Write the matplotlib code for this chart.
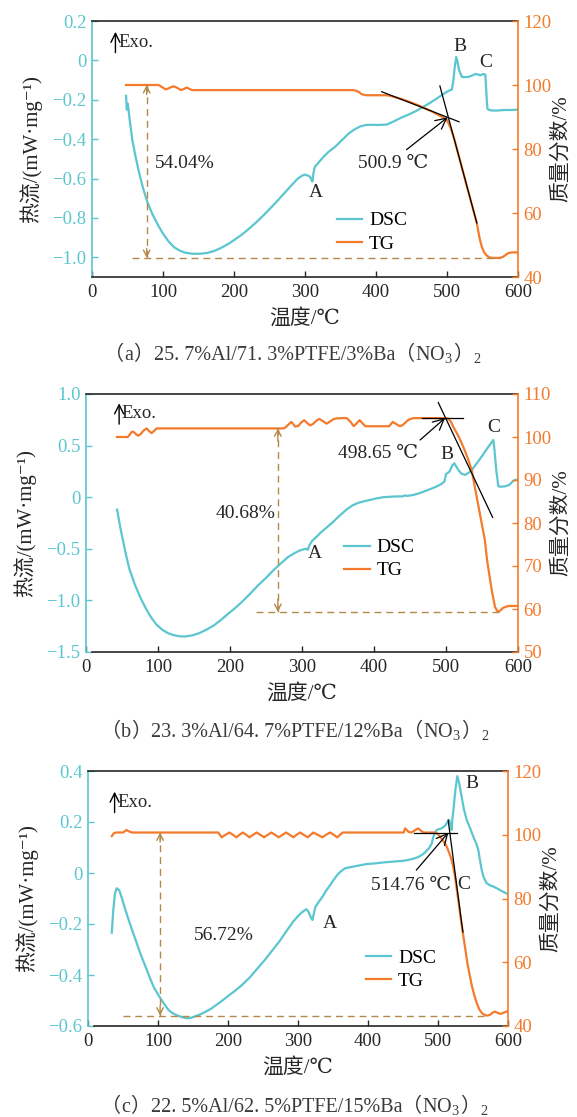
import re
import numpy as np
import matplotlib
matplotlib.use("Agg")
import matplotlib.pyplot as plt
from matplotlib.ticker import FuncFormatter
from matplotlib.offsetbox import TextArea, HPacker, AnchoredOffsetbox

plt.rcParams['font.family'] = ['Liberation Serif', 'DejaVu Serif', 'Noto Sans CJK SC']
plt.rcParams['font.size'] = 13
plt.rcParams['mathtext.fontset'] = 'custom'
plt.rcParams['mathtext.rm'] = 'Liberation Serif'
plt.rcParams['mathtext.default'] = 'regular'

CYAN = '#5bc6d0'
ORANGE = '#f47a2c'
BROWN = '#b5894c'
INK = '#262626'

# (a) 25.7%Al/71.3%PTFE/3%Ba(NO3)2
dsc_a_T = [48, 49, 50.5, 53, 57, 62, 67, 72, 78, 85, 92, 100, 108, 116, 124, 132, 142, 152,
           162, 172, 182, 192, 202, 212, 222, 232, 242, 252, 262, 272, 282, 290, 296, 300,
           304, 307, 309, 310.5, 312, 314, 320, 326, 333, 342, 352, 362, 370, 378, 386, 394,
           405, 415, 425, 436, 446, 456, 466, 476, 487, 497, 502, 504, 507, 509, 511, 513,
           515, 517, 521, 525, 530, 536, 540, 544, 547, 551, 554, 556, 557, 562, 570, 580,
           590, 600]
dsc_a = [-0.18, -0.25, -0.22, -0.30, -0.41, -0.50, -0.58, -0.65, -0.72, -0.78, -0.83, -0.88,
         -0.92, -0.95, -0.967, -0.977, -0.982, -0.982, -0.978, -0.968, -0.952, -0.932, -0.908,
         -0.882, -0.852, -0.82, -0.785, -0.748, -0.71, -0.67, -0.63, -0.60, -0.585, -0.58,
         -0.585, -0.59, -0.605, -0.615, -0.57, -0.54, -0.515, -0.49, -0.465, -0.44, -0.405,
         -0.37, -0.35, -0.335, -0.328, -0.327, -0.328, -0.326, -0.31, -0.29, -0.275, -0.258,
         -0.237, -0.216, -0.19, -0.166, -0.155, -0.152, -0.147, -0.10, -0.03, 0.017, -0.01,
         -0.05, -0.084, -0.085, -0.084, -0.076, -0.069, -0.072, -0.076, -0.069, -0.073, -0.20,
         -0.247, -0.254, -0.255, -0.252, -0.252, -0.25]
tg_a_T = [48, 94, 99, 104, 109, 115, 120, 125.5, 130, 133, 137, 141, 250, 368, 372, 376, 380,
          386, 400, 415, 420, 430, 440, 450, 460, 470, 480, 490, 495, 500, 505, 510, 520, 530,
          542, 546, 549, 552, 556, 560, 565, 570, 575, 579, 582, 586, 589, 594, 600]
tg_a = [100, 100, 99.3, 98.6, 99.1, 99.6, 99.1, 98.4, 98.8, 99.2, 98.8, 98.4, 98.4, 98.4, 98.2,
        97.8, 97.1, 96.8, 96.8, 96.8, 96.6, 96.0, 95.3, 94.5, 93.6, 92.6, 91.6, 90.4, 89.8,
        89.0, 86.6, 83.3, 75.0, 66.7, 56.8, 52.0, 49.5, 47.8, 46.7, 46.1, 45.96, 45.96, 46.0,
        46.3, 46.8, 47.4, 47.6, 47.7, 47.7]
loss_a = 54.04
onset_a = 500.9
tan1_a_T = [408, 517]
tan1_a = [97.9, 88.5]
tan2_a_T = [490, 542]
tan2_a = [99.7, 56.9]

# (b) 23.3%Al/64.7%PTFE/12%Ba(NO3)2
dsc_b_T = [43, 44, 47, 50, 55, 60, 68, 76, 84, 91, 98, 106, 114, 122, 130, 137, 147, 157, 167,
           178, 188, 198, 209, 219, 229, 239, 250, 260, 270, 280, 288, 296, 302, 306, 308, 310,
           314, 320, 326, 334, 342, 352, 362, 370, 378, 386, 393, 403, 413, 424, 434, 440, 443,
           446, 455, 464, 475, 485, 493, 498, 500, 502, 505, 509, 511.5, 514, 518, 522, 527,
           532, 536, 543, 551, 558, 565.7, 567, 570, 572.7, 576, 582, 588, 593, 596, 600]
dsc_b = [-0.12, -0.15, -0.27, -0.375, -0.54, -0.69, -0.85, -0.98, -1.09, -1.17, -1.235, -1.285,
         -1.318, -1.337, -1.348, -1.35, -1.34, -1.318, -1.285, -1.24, -1.186, -1.126, -1.063,
         -0.998, -0.928, -0.854, -0.782, -0.71, -0.645, -0.583, -0.548, -0.519, -0.505, -0.50,
         -0.51, -0.47, -0.423, -0.385, -0.343, -0.295, -0.247, -0.18, -0.119, -0.08, -0.055,
         -0.04, -0.029, -0.012, 0.0, 0.005, 0.008, 0.008, 0.018, 0.012, 0.022, 0.041, 0.07,
         0.098, 0.125, 0.153, 0.225, 0.233, 0.25, 0.31, 0.328, 0.30, 0.255, 0.225, 0.217, 0.24,
         0.265, 0.33, 0.409, 0.48, 0.554, 0.48, 0.25, 0.105, 0.102, 0.105, 0.12, 0.155, 0.167,
         0.17]
tg_b_T = [43, 58, 61, 63.5, 66, 69, 72.6, 76, 80, 84.2, 87.5, 91, 94.5, 98, 200, 275, 280, 285,
          288, 290.5, 295, 299, 303, 307, 311, 315, 320, 324, 329, 334, 339, 343, 347, 355, 362,
          367, 372, 376, 380, 384, 388, 400, 421, 424, 426, 431, 436, 440, 445, 449, 455, 470,
          490, 503, 507, 510, 517, 524, 530, 535.7, 542.6, 549.6, 554, 557, 563.5, 568, 571.8,
          575, 579.6, 586.5, 600]
tg_b = [100.0, 100.0, 100.6, 101.2, 101.2, 100.7, 100.3, 100.7, 101.5, 102.0, 101.4, 100.9,
        101.4, 102.0, 102.0, 102.0, 102.7, 103.5, 103.0, 102.4, 102.6, 103.4, 103.9, 103.3,
        102.7, 103.0, 103.8, 104.2, 103.7, 103.1, 103.6, 104.1, 104.3, 104.4, 104.4, 103.6,
        102.5, 103.2, 103.9, 103.2, 102.5, 102.5, 102.5, 103.1, 103.5, 103.0, 102.5, 102.8,
        103.6, 104.1, 104.4, 104.4, 104.4, 104.3, 103.5, 102.4, 100.3, 97.7, 95.2, 92.3, 86.1,
        79.9, 76.0, 71.4, 64.4, 60.5, 59.32, 59.6, 60.3, 60.7, 60.7]
loss_b = 40.68
onset_b = 498.65
tan1_b_T = [466, 524]
tan1_b = [104.4, 104.4]
tan2_b_T = [489.3, 564.8]
tan2_b = [108.0, 81.3]

# (c) 22.5%Al/62.5%PTFE/15%Ba(NO3)2
dsc_c_T = [34, 36, 38.5, 41, 44.5, 48, 52, 57, 63, 68, 73, 78.5, 84, 89, 94, 100, 105, 110, 115,
           121, 126, 134, 141.5, 147, 152, 160, 168, 176, 183, 191, 199, 210, 220, 231, 241, 252,
           262, 273, 283, 293, 299, 304, 309, 312, 315, 317, 319, 320.7, 322.5, 325, 330, 335,
           340, 346, 351, 356, 361, 367, 375, 382.5, 390, 398, 411, 424, 438, 451, 459, 466,
           472, 477, 482, 487, 491, 493.3, 498, 505, 510, 512.4, 516, 518, 519.5, 520.5, 522,
           525, 527.6, 530, 533.8, 537, 541, 546, 550.5, 555, 557.6, 560, 562.4, 565, 569.5,
           574, 579, 584, 588.6, 594, 600]
dsc_c = [-0.234, -0.15, -0.08, -0.06, -0.067, -0.095, -0.132, -0.175, -0.224, -0.262, -0.302,
         -0.342, -0.38, -0.415, -0.448, -0.476, -0.498, -0.518, -0.537, -0.55, -0.557, -0.565,
         -0.57, -0.568, -0.563, -0.555, -0.544, -0.532, -0.518, -0.502, -0.485, -0.462, -0.439,
         -0.41, -0.378, -0.343, -0.308, -0.27, -0.23, -0.191, -0.172, -0.158, -0.147, -0.142,
         -0.152, -0.165, -0.178, -0.184, -0.16, -0.132, -0.112, -0.093, -0.07, -0.047, -0.027,
         -0.008, 0.006, 0.018, 0.023, 0.027, 0.031, 0.035, 0.038, 0.042, 0.045, 0.048, 0.052,
         0.057, 0.063, 0.071, 0.082, 0.097, 0.115, 0.142, 0.169, 0.175, 0.185, 0.195, 0.208,
         0.19, 0.169, 0.21, 0.247, 0.33, 0.38, 0.355, 0.299, 0.25, 0.208, 0.175, 0.142, 0.113,
         0.09, 0.05, 0.012, -0.015, -0.04, -0.048, -0.053, -0.06, -0.067, -0.075, -0.083]
tg_c_T = [34, 37, 40, 50, 52, 55, 58, 63, 186, 191, 196.5, 202, 207, 212, 216.5, 221, 226,
          230.6, 236, 241, 246, 251.5, 257, 262, 267, 272.5, 278, 283, 288, 293.5, 298, 303,
          308, 314, 318, 322, 328, 335, 340, 346, 351, 356, 360, 364, 451, 453, 458, 462, 467,
          471.6, 476, 479.5, 495, 499, 503, 508, 512.4, 516, 519.5, 522, 524.3, 527, 529, 532,
          535.5, 542, 547.6, 551.5, 555.5, 559, 563, 567, 571, 575, 578, 581.7, 585, 589.5,
          594, 600]
tg_c = [99.6, 100.5, 100.7, 100.7, 101.0, 101.5, 101.1, 100.7, 100.7, 99.2, 100.0, 100.7, 100.0,
        99.2, 100.0, 100.7, 100.0, 99.2, 100.0, 100.7, 100.0, 99.2, 100.0, 100.7, 100.0, 99.2,
        100.0, 100.7, 100.0, 99.2, 100.0, 100.7, 100.0, 99.2, 100.0, 100.7, 100.0, 99.2, 100.0,
        100.7, 100.0, 99.2, 100.0, 100.7, 100.7, 102.0, 100.9, 100.7, 101.4, 102.0, 101.2, 100.7,
        100.7, 100.4, 99.4, 97.9, 96.3, 94.3, 92.1, 89.7, 86.8, 82.6, 79.5, 74.5, 69.3, 59.7,
        53.4, 49.9, 47.1, 45.2, 44.0, 43.4, 43.28, 43.6, 44.2, 44.5, 44.1, 43.8, 44.2, 44.7]
loss_c = 56.72
onset_c = 514.76
tan1_c_T = [465, 527]
tan1_c = [100.65, 100.65]
tan2_c_T = [514.5, 535.5]
tan2_c = [104.6, 69.5]

x_ticks = [0, 100, 200, 300, 400, 500, 600]


def left_fmt(v, pos):
    if abs(v) < 1e-9:
        return '0'
    return ('%.1f' % v).replace('-', '\u2212')


def caption(fig, x, y, text):
    # full-width brackets come from the CJK font, the rest is serif (with mathtext subscripts)
    boxes = []
    for part in re.split('([（）])', text):
        if not part:
            continue
        fam = 'Noto Sans CJK SC' if part in '（）' else 'Liberation Serif'
        boxes.append(TextArea(part, textprops=dict(fontsize=14.5, color='#3a3a3a', family=fam)))
    pack = HPacker(children=boxes, align='baseline', pad=0, sep=0)
    box = AnchoredOffsetbox(loc='center', child=pack, bbox_to_anchor=(x, y),
                            bbox_transform=fig.transFigure, frameon=False, pad=0, borderpad=0)
    fig.add_artist(box)


def panel(fig, lay, dsc_T, dsc, tg_T, tg, loss, onset, tan1_T, tan1, tan2_T, tan2):
    ax = fig.add_axes(lay['rect'])
    ax2 = ax.twinx()

    ax.set_xlim(0, 600)
    ax.set_xticks(x_ticks)
    ax.set_ylim(*lay['ylim_l'])
    ax.set_yticks(lay['yticks_l'])
    ax.yaxis.set_major_formatter(FuncFormatter(left_fmt))
    ax2.set_ylim(*lay['ylim_r'])
    ax2.set_yticks(lay['yticks_r'])

    for s in ['top', 'bottom']:
        ax.spines[s].set_color(INK)
        ax.spines[s].set_linewidth(1.2)
    ax.spines['left'].set_color(CYAN)
    ax.spines['left'].set_linewidth(1.2)
    ax.spines['right'].set_visible(False)
    ax.spines['bottom'].set_bounds(lay['spine_start'], 600)
    for s in ['top', 'bottom', 'left']:
        ax2.spines[s].set_visible(False)
    ax2.spines['right'].set_color(ORANGE)
    ax2.spines['right'].set_linewidth(1.2)

    ax.tick_params(axis='x', direction='in', length=4, width=1, color=INK, labelcolor=INK,
                   labelsize=13.5, pad=5, top=False)
    ax.tick_params(axis='y', direction='in', length=4, width=1, color=CYAN, labelcolor=CYAN,
                   labelsize=13.5, pad=4)
    ax2.tick_params(axis='y', direction='in', length=4, width=1, color=ORANGE, labelcolor=ORANGE,
                    labelsize=13.5, pad=4)

    l1, = ax.plot(dsc_T, dsc, color=CYAN, lw=1.6, label='DSC')
    l2, = ax2.plot(tg_T, tg, color=ORANGE, lw=1.6, label='TG')

    # mass loss: dashed baseline plus double arrow
    base = 100 - loss
    ax2.plot(lay['base_span'], [base, base], color=BROWN, lw=1.0, ls=(0, (5, 3.5)))
    xa = lay['arrow_T']
    top = np.interp(xa, tg_T, tg)
    ax2.plot([xa, xa], [top, base], color=BROWN, lw=1.0, ls=(0, (5, 3.5)))
    head = dict(arrowstyle='->,head_length=0.35,head_width=0.18', color=BROWN, lw=1.0,
                shrinkA=0, shrinkB=0)
    ax2.annotate('', xy=(xa, top), xytext=(xa, top - 3), arrowprops=head)
    ax2.annotate('', xy=(xa, base), xytext=(xa, base + 3), arrowprops=head)
    ax2.text(*lay['loss_xy'], '%.2f%%' % loss, ha='center', va='center', fontsize=14, color=INK)

    # onset from tangent lines
    ax2.plot(tan1_T, tan1, color='black', lw=0.9)
    ax2.plot(tan2_T, tan2, color='black', lw=0.9)
    level = np.interp(onset, tan1_T, tan1)
    ax2.annotate('', xy=(onset, level), xytext=lay['onset_tail'],
                 arrowprops=dict(arrowstyle='->,head_length=0.6,head_width=0.3', color='black',
                                 lw=0.9, shrinkA=0, shrinkB=0))
    ax2.text(*lay['onset_xy'], '%s ℃' % lay['onset_txt'], ha='center', va='center',
             fontsize=14, color=INK)

    for key in ['A', 'B', 'C']:
        ax.text(*lay[key], key, ha='center', va='center', fontsize=14, color=INK)

    # exotherm direction: thin arrow pointing up, then the word
    ax.annotate('', xy=lay['exo'], xytext=(0, -15), textcoords='offset points',
                arrowprops=dict(arrowstyle='->,head_length=0.5,head_width=0.25', color='black',
                                lw=1.0, shrinkA=0, shrinkB=0))
    ax.annotate('Exo.', xy=lay['exo'], xytext=(2, -7.5), textcoords='offset points',
                ha='left', va='center', fontsize=13.5, color=INK)

    ax2.legend([l1, l2], ['DSC', 'TG'], loc='center left', bbox_to_anchor=lay['legend'],
               frameon=False, fontsize=14, handlelength=1.3, handletextpad=0.35,
               labelspacing=0.28, borderpad=0, borderaxespad=0)

    ax.set_xlabel('温度/℃', fontsize=15, color=INK, labelpad=6)
    ax.set_ylabel('热流/(mW·mg⁻¹)', fontsize=15, color=INK, labelpad=7)
    ax2.set_ylabel('质量分数/%', fontsize=15, color=INK, labelpad=0)

    caption(fig, lay['cap_x'], lay['cap_y'], lay['cap'])


W, H = 577, 1117
fig = plt.figure(figsize=(W / 100, H / 100), dpi=100)

lay_a = dict(rect=[92 / W, 1 - 277 / H, 426 / W, 256 / H],
             ylim_l=(-1.1, 0.2), yticks_l=[0.2, 0, -0.2, -0.4, -0.6, -0.8, -1.0],
             ylim_r=(40, 120), yticks_r=[40, 60, 80, 100, 120], spine_start=0,
             base_span=[57, 575], arrow_T=77, loss_xy=(131, 75.4),
             onset_xy=(424, 75.4), onset_txt='500.9', onset_tail=(443, 79.8),
             A=(315, -0.67), B=(518, 0.07), C=(555, -0.012), exo=(33, 0.145),
             legend=(0.575, 0.175), cap_x=293 / W, cap_y=1 - 355 / H,
             cap='（a）25. 7%Al/71. 3%PTFE/3%Ba（NO$_3$）$_2$')
lay_b = dict(rect=[86 / W, 1 - 652 / H, 432 / W, 258 / H],
             ylim_l=(-1.5, 1.0), yticks_l=[1.0, 0.5, 0, -0.5, -1.0, -1.5],
             ylim_r=(50, 110), yticks_r=[50, 60, 70, 80, 90, 100, 110], spine_start=8,
             base_span=[236, 573], arrow_T=266.5, loss_xy=(221, 82.3),
             onset_xy=(406, 96.2), onset_txt='498.65', onset_tail=(464, 99.3),
             A=(317.5, -0.55), B=(502, 0.409), C=(566.7, 0.677), exo=(46, 0.91),
             legend=(0.598, 0.36), cap_x=295 / W, cap_y=1 - 732 / H,
             cap='（b）23. 3%Al/64. 7%PTFE/12%Ba（NO$_3$）$_2$')
lay_c = dict(rect=[88 / W, 1 - 1026 / H, 420 / W, 255 / H],
             ylim_l=(-0.6, 0.4), yticks_l=[0.4, 0.2, 0, -0.2, -0.4, -0.6],
             ylim_r=(40, 120), yticks_r=[40, 60, 80, 100, 120], spine_start=8,
             base_span=[50, 566], arrow_T=103, loss_xy=(194, 68.5),
             onset_xy=(461, 84.2), onset_txt='514.76', onset_tail=(469, 88.9),
             A=(346, -0.197), B=(548, 0.35), C=(537, -0.047), exo=(38, 0.319),
             legend=(0.662, 0.222), cap_x=295 / W, cap_y=1 - 1107 / H,
             cap='（c）22. 5%Al/62. 5%PTFE/15%Ba（NO$_3$）$_2$')

panel(fig, lay_a, dsc_a_T, dsc_a, tg_a_T, tg_a, loss_a, onset_a, tan1_a_T, tan1_a, tan2_a_T, tan2_a)
panel(fig, lay_b, dsc_b_T, dsc_b, tg_b_T, tg_b, loss_b, onset_b, tan1_b_T, tan1_b, tan2_b_T, tan2_b)
panel(fig, lay_c, dsc_c_T, dsc_c, tg_c_T, tg_c, loss_c, onset_c, tan1_c_T, tan1_c, tan2_c_T, tan2_c)

fig.savefig('out.png', dpi=100)
